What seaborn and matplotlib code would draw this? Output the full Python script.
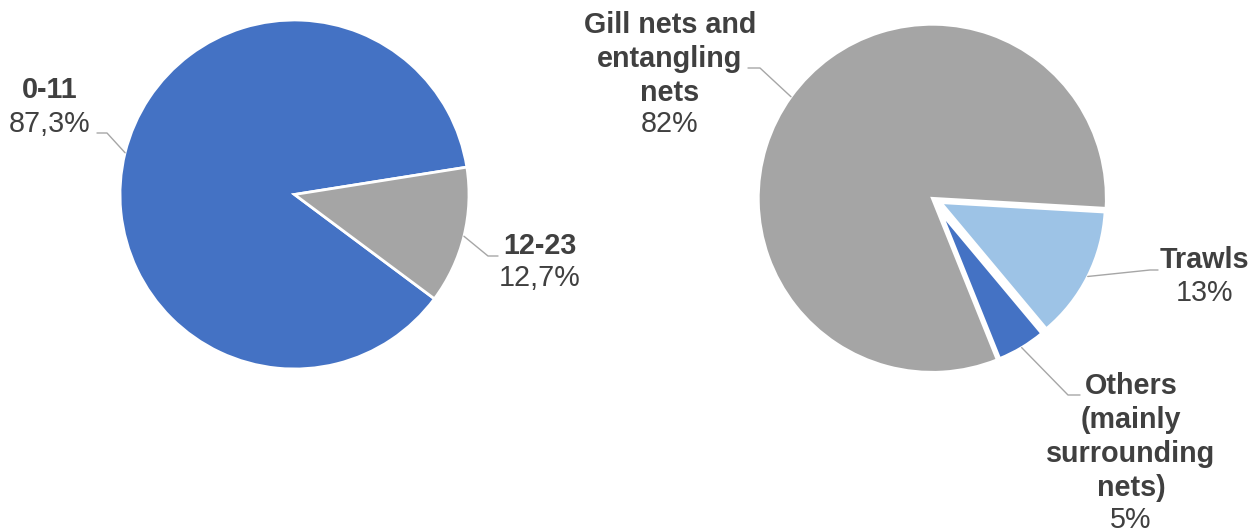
import numpy as np
import matplotlib
matplotlib.use("Agg")
import matplotlib.pyplot as plt
import seaborn as sns

# --- data ---
age_labels = ["0-11", "12-23"]
age_shares = [87.3, 12.7]

gear_labels = ["Gill nets and\nentangling\nnets", "Trawls", "Others\n(mainly\nsurrounding\nnets)"]
gear_shares = [82, 13, 5]

# --- style ---
sns.set_theme(style="white")
plt.rcParams["font.family"] = ["Liberation Sans", "DejaVu Sans"]

BLUE = "#4472C4"
GREY = "#A5A5A5"
LIGHT_BLUE = "#9DC3E6"
TEXT = "#404040"
LINE = "#A6A6A6"

W, H = 1252, 529
FS = 20.7
LS = 1.27


def to_ax(x, y):
    # pixel (from top-left) -> axes data coords
    return x, H - y


def edge_point(center, radius, angle):
    # exploded slices are shrunk so their rim stays on the original circle
    cx, cy = center
    a = np.deg2rad(angle)
    return cx + radius * np.cos(a), cy + radius * np.sin(a)


def draw_pie(ax, values, colors, center, radius, start, explode):
    # matplotlib's explode is an absolute offset, so scale by the radius
    wedges, _ = ax.pie(
        values, colors=colors, center=center, radius=radius,
        startangle=start, counterclock=False,
        explode=[e * radius for e in explode],
        wedgeprops=dict(edgecolor="white", linewidth=2.0),
    )
    # Excel-style: pulled-out slices keep the same outer rim
    for w, e in zip(wedges, explode):
        w.set_radius(radius * (1 - e))
    return wedges


def draw_label(ax, wedge, center, radius, elbow, end, name, name_xy, pct, pct_xy):
    mid = (wedge.theta1 + wedge.theta2) / 2
    p = edge_point(center, radius, mid)
    xs = [p[0], to_ax(*elbow)[0], to_ax(*end)[0]]
    ys = [p[1], to_ax(*elbow)[1], to_ax(*end)[1]]
    ax.plot(xs, ys, color=LINE, lw=1.0, zorder=1)
    ax.text(*to_ax(*name_xy), name, ha="center", va="center", fontsize=FS,
            fontweight="bold", color=TEXT, linespacing=LS, multialignment="center")
    ax.text(*to_ax(*pct_xy), pct, ha="center", va="center", fontsize=FS, color=TEXT)


fig = plt.figure(figsize=(W / 100, H / 100), dpi=100)
ax = fig.add_axes([0, 0, 1, 1])

# left pie: age classes
left_c = to_ax(294.5, 194.5)
left_r = 174.5
left_explode = [0, 0]
left_w = draw_pie(ax, age_shares, [BLUE, GREY], left_c, left_r, -36.7, left_explode)

# right pie: fishing gear
right_c = to_ax(932.3, 198.3)
right_r = 174
gear_explode = [0, 0.055, 0.1]
right_w = draw_pie(ax, gear_shares, [GREY, LIGHT_BLUE, BLUE], right_c, right_r, -68.1, gear_explode)

# pie() resets the limits, so fix them afterwards
ax.set_xlim(0, W)
ax.set_ylim(0, H)
ax.set_aspect("equal")
ax.axis("off")

age_pct = [f"{v:.1f}%".replace(".", ",") for v in age_shares]
draw_label(ax, left_w[0], left_c, left_r, (107, 133), (97, 133),
           age_labels[0], (50, 90), age_pct[0], (50, 124))
draw_label(ax, left_w[1], left_c, left_r, (488, 256), (498, 256),
           age_labels[1], (540, 246), age_pct[1], (540, 278))

gear_pct = [f"{v:d}%" for v in gear_shares]
draw_label(ax, right_w[0], right_c, right_r, (760, 68), (748, 68),
           gear_labels[0], (670, 59), gear_pct[0], (670, 124))
draw_label(ax, right_w[1], right_c, right_r, (1150, 270), (1158, 270),
           gear_labels[1], (1204, 260), gear_pct[1], (1204, 293))
draw_label(ax, right_w[2], right_c, right_r, (1068, 395), (1080, 395),
           gear_labels[2], (1131, 437), gear_pct[2], (1131, 520))

fig.savefig("out.png", dpi=100, facecolor="white")
